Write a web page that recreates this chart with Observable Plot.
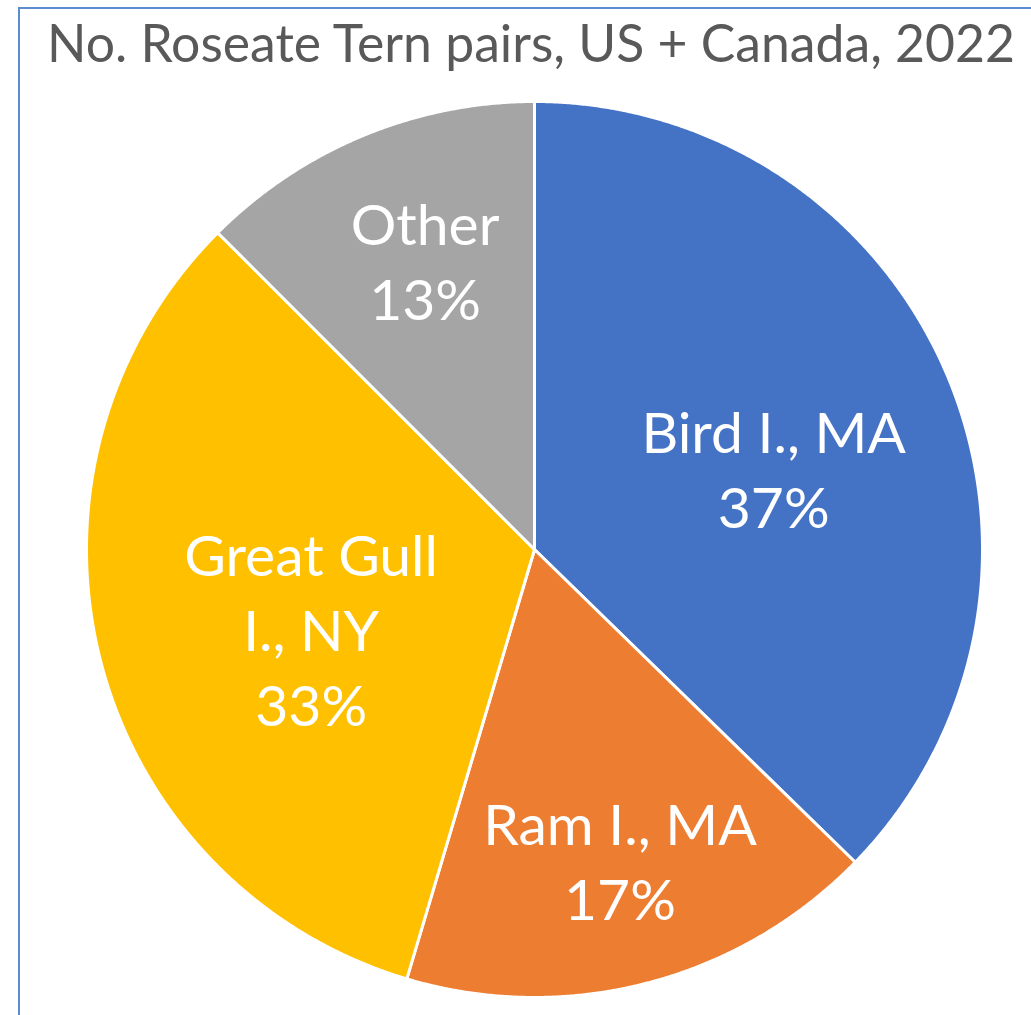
<!DOCTYPE html>
<html>
<head>
<meta charset="utf-8">
<script src="https://cdn.jsdelivr.net/npm/d3@7"></script>
<script src="https://cdn.jsdelivr.net/npm/@observablehq/plot@0.6"></script>
<style>
  html, body { margin: 0; padding: 0; background: #fff; overflow: hidden; }
  #wrap { position: relative; width: 1031px; height: 1015px; overflow: hidden; }
  #frame { position: absolute; left: 18px; top: 7px; width: 1060px; height: 1060px;
           border: 2px solid #5b8bd1; box-sizing: border-box; pointer-events: none; }
  #title { position: absolute; left: 0; top: 17px; width: 1062px; text-align: center;
           font-family: Lato, "Open Sans", sans-serif; font-size: 51.7px; line-height: 1;
           color: #595959; white-space: nowrap; }
  #chart { position: absolute; left: 0; top: 0; }
</style>
</head>
<body>
<div id="wrap">
  <div id="chart"></div>
  <div id="title">No. Roseate Tern pairs, US + Canada, 2022</div>
  <div id="frame"></div>
</div>
<script>
// ---- data ----
const sites = ["Bird I., MA", "Ram I., MA", "Great Gull I., NY", "Other"];
const siteLabels = ["Bird I., MA", "Ram I., MA", "Great Gull\nI., NY", "Other"];
const shares = [37.3, 17.3, 32.9, 12.5];
const pctLabels = ["37%", "17%", "33%", "13%"];

// ---- style / layout ----
const colors = ["#4472C4", "#ED7D31", "#FFC000", "#A5A5A5"];
const labelLayout = [
  {r: 0.56, dx: 8, dy: 14},
  {r: 0.731, dx: 3, dy: -8},
  {r: 0.535, dx: 9, dy: 19},
  {r: 0.679, dx: 7, dy: -10}
];

const table = sites.map((s, i) => ({site: s, value: shares[i], label: siteLabels[i] + "\n" + pctLabels[i]}));
const arcs = d3.pie().sort(null).value(d => d.value)(table);

const pts = [];
arcs.forEach(a => {
  const s = a.data.site;
  pts.push({site: s, x: 0, y: 0});
  const n = Math.max(2, Math.ceil((a.endAngle - a.startAngle) / (Math.PI / 720)));
  for (let k = 0; k <= n; k++) {
    const t = a.startAngle + (a.endAngle - a.startAngle) * k / n;
    pts.push({site: s, x: Math.sin(t), y: Math.cos(t)});
  }
  pts.push({site: s, x: 0, y: 0});
});

const textMarks = arcs.map((a, i) => {
  const mid = (a.startAngle + a.endAngle) / 2;
  const L = labelLayout[i];
  return Plot.text([{x: L.r * Math.sin(mid), y: L.r * Math.cos(mid), label: a.data.label}], {
    x: "x", y: "y", text: "label", fill: "white",
    fontFamily: "Lato, 'Open Sans', sans-serif", fontSize: 57, lineHeight: 1.316,
    dx: L.dx, dy: L.dy
  });
});

const chart = Plot.plot({
  width: 1031, height: 1015, margin: 0,
  x: {domain: [-1, 1], range: [86, 982], axis: null},
  y: {domain: [-1, 1], range: [997, 101], axis: null},
  color: {domain: sites, range: colors},
  style: {background: "transparent"},
  marks: [
    Plot.line(pts, {x: "x", y: "y", z: "site", fill: "site", stroke: "white", strokeWidth: 3, strokeLinejoin: "round"}),
    ...textMarks
  ]
});
document.getElementById("chart").appendChild(chart);
</script>
</body>
</html>
